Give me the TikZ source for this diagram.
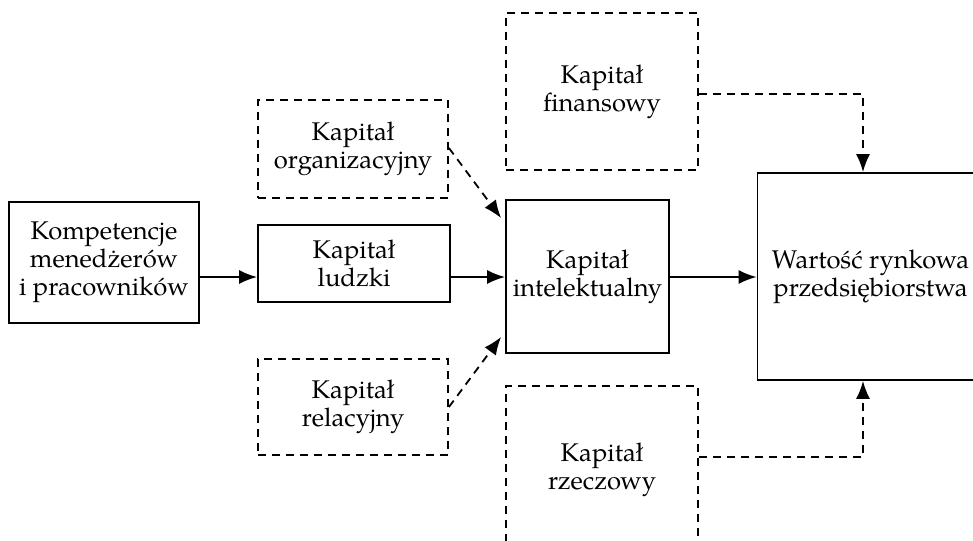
\documentclass[tikz,border=0pt]{standalone}
\usepackage{fontspec}
\setmainfont{TeX Gyre Pagella}
\usetikzlibrary{arrows.meta,calc}
\begin{document}
\begin{tikzpicture}[x=0.5pt,y=-0.5pt,
  every node/.style={font=\fontsize{12.8}{14}\selectfont, align=center, inner sep=0pt},
  solidbox/.style={draw, line width=0.9pt, rectangle},
  dashbox/.style={draw, line width=0.9pt, rectangle, dash pattern=on 4pt off 3pt},
  arr/.style={line width=0.9pt, -{Latex[length=9pt,width=7pt]}},
  darr/.style={arr, dash pattern=on 4pt off 3pt}]
\useasboundingbox (0,0) rectangle (973,540);
\node[solidbox, minimum width=95pt, minimum height=60.5pt] (A) at (104,262.5) {Kompetencje\\menedżerów\\i pracowników};
\node[solidbox, minimum width=96pt, minimum height=38.5pt] (B) at (354,263.5) {Kapitał\\ludzki};
\node[solidbox, minimum width=81.5pt, minimum height=76.5pt] (C) at (587.5,276.5) {Kapitał\\intelektualny};
\node[solidbox, minimum width=113pt, minimum height=103.5pt] (W) at (870.5,276.5) {Wartość rynkowa\\przedsiębiorstwa};
\node[dashbox, minimum width=95pt, minimum height=49pt] (O) at (353,149) {Kapitał\\organizacyjny};
\node[dashbox, minimum width=95pt, minimum height=48pt] (R) at (353,407) {Kapitał\\relacyjny};
\node[dashbox, minimum width=96pt, minimum height=78.5pt] (F) at (602,91.5) {Kapitał\\finansowy};
\node[dashbox, minimum width=96pt, minimum height=84pt] (Z) at (602,470) {Kapitał\\rzeczowy};
\coordinate (yl) at (0,277);
\coordinate (fy) at (0,94);
\coordinate (zy) at (0,457);
\coordinate (vx) at (863,0);
\draw[arr] (A.east |- yl) -- (B.west |- yl);
\draw[arr] (B.east |- yl) -- (C.west |- yl);
\draw[arr] (C.east |- yl) -- (W.west |- yl);
\draw[darr] ($(O.north east)!0.49!(O.south east)$) -- ($(C.north west)+(-2pt,-9.5pt)$);
\draw[darr] ($(R.north east)!0.5!(R.south east)$) -- ($(C.south west)+(-2pt,8.5pt)$);
\draw[darr] (F.east |- fy) -| (W.north -| vx);
\draw[darr] (Z.east |- zy) -| (W.south -| vx);
\end{tikzpicture}
\end{document}
